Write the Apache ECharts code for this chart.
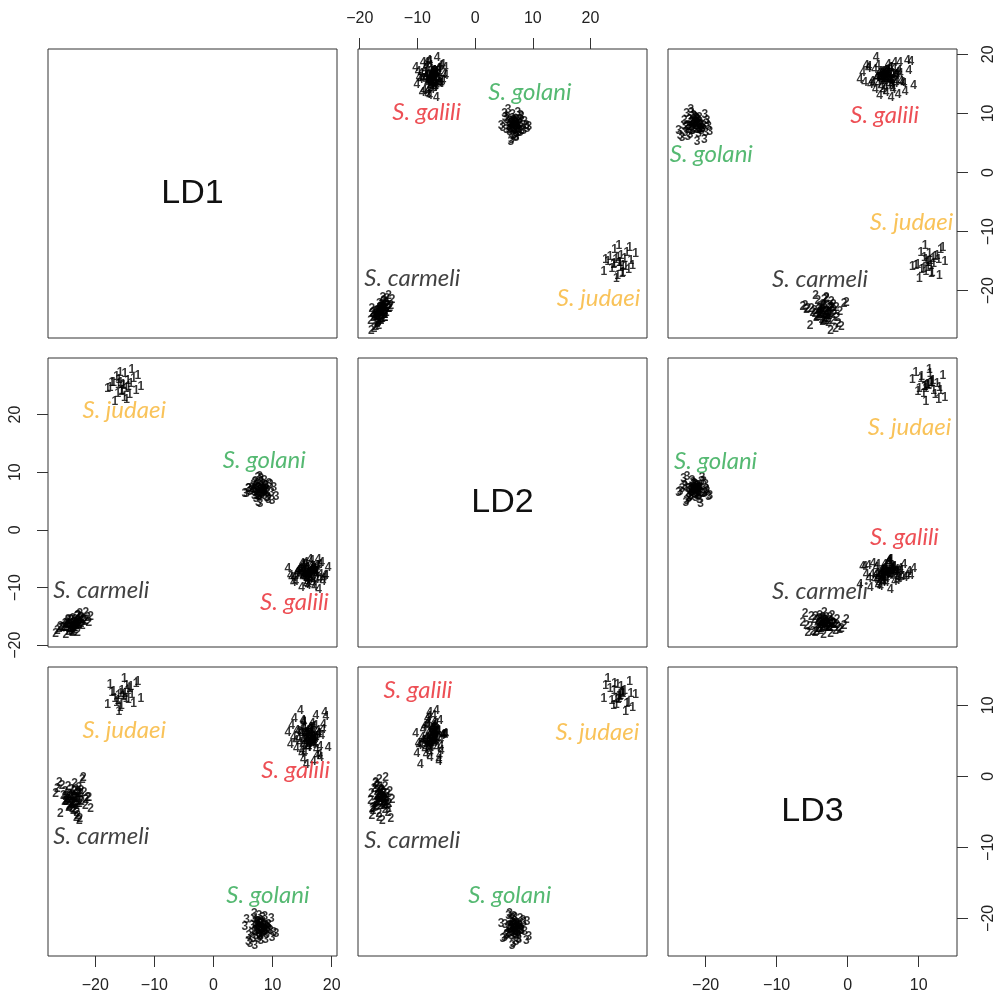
<!DOCTYPE html>
<html><head><meta charset="utf-8">
<script src="https://cdn.jsdelivr.net/npm/echarts@6/dist/echarts.min.js"></script>
<style>html,body{margin:0;padding:0;background:#fff}#c{width:1003px;height:1001px}</style>
</head><body><div id="c"></div><script>
// ---------------- data ----------------
const varNames = ['LD1', 'LD2', 'LD3'];
const axisRanges = [[-28.0, 20.9], [-20.3, 29.8], [-25.3, 15.4]];
const tickValues = [[-20, -10, 0, 10, 20], [-20, -10, 0, 10, 20], [-20, -10, 0, 10]];

const species = ['S. judaei', 'S. carmeli', 'S. golani', 'S. galili'];
const speciesDigit = ['1', '2', '3', '4'];
const speciesColor = ['#F7B431', '#111111', '#2BA84F', '#E8232B'];

// group 1 : S. judaei
const judaeiLD1 = [-15.3, -14.2, -16.4, -13.1, -15.8, -17.2, -14.7, -12.3, -16.0, -15.1, -13.8, -17.9, -14.5, -16.7, -12.8, -15.6, -14.0, -16.2, -15.0, -17.5, -13.5, -16.9, -15.2, -14.8, -15.7, -14.4, -15.5, -16.1];
const judaeiLD2 = [25.1, 23.4, 26.6, 24.2, 27.3, 25.5, 22.6, 24.9, 26.1, 23.0, 27.8, 24.5, 25.9, 22.3, 26.8, 24.0, 25.3, 23.7, 27.0, 24.7, 26.3, 25.6, 25.0, 24.4, 25.6, 24.8, 24.1, 25.2];
const judaeiLD3 = [11.2, 12.3, 10.4, 13.1, 9.6, 11.8, 12.8, 10.9, 9.1, 13.7, 11.5, 10.1, 12.0, 11.0, 13.4, 9.9, 12.6, 10.7, 11.6, 12.9, 10.3, 11.9, 11.4, 11.0, 11.7, 10.8, 12.1, 11.3];
// group 2 : S. carmeli
const carmeliLD1 = [-23.6, -24.5, -22.8, -25.2, -23.1, -21.9, -24.0, -26.1, -23.4, -22.4, -24.8, -23.0, -25.6, -21.3, -23.8, -24.3, -22.6, -25.0, -23.3, -20.8, -24.7, -22.2, -23.9, -25.9, -22.9, -24.1, -21.7, -23.5, -24.9, -22.5, -23.7, -26.4, -21.6, -23.2, -25.4, -22.0, -24.4, -23.0, -26.7, -22.7, -24.6, -21.1, -23.9, -25.1, -22.3,
  -23.5, -23.9, -23.0, -24.2, -22.7, -23.6, -24.6, -23.2, -23.8, -22.5, -24.0, -23.3, -24.4, -22.9, -23.7, -25.0, -23.1, -24.1, -22.8, -23.4];
const carmeliLD2 = [-16.0, -17.6, -16.5, -16.8, -15.1, -15.9, -17.4, -17.2, -15.6, -16.2, -16.1, -17.9, -17.0, -15.3, -15.4, -16.9, -14.6, -18.1, -16.4, -15.0, -16.3, -16.6, -17.1, -16.7, -14.8, -15.7, -15.8, -17.3, -16.4, -15.2, -17.7, -17.5, -14.4, -16.6, -16.9, -15.5, -17.1, -14.9, -18.0, -16.1, -15.6, -16.0, -17.8, -16.3, -15.3,
  -16.3, -16.7, -15.9, -16.5, -16.1, -17.0, -15.7, -16.4, -16.8, -15.5, -16.2, -16.6, -17.2, -15.8, -16.0, -16.9, -16.3, -15.6, -16.5, -17.0];
const carmeliLD3 = [-2.9, -4.4, -1.6, -3.5, -5.1, -2.3, -3.8, -0.9, -4.7, -2.0, -3.2, -5.6, -1.3, -3.0, -4.0, -2.6, -6.0, -3.4, -1.9, -4.5, -2.8, -0.5, -3.7, -5.3, -2.2, -3.1, -4.2, -1.1, -3.6, -2.5, -4.9, -1.7, -3.3, -5.8, -2.7, -0.2, -4.1, -3.9, -2.4, -6.3, -1.5, -3.0, -4.6, -2.1, -3.5,
  -3.1, -2.6, -3.6, -2.9, -3.9, -2.2, -3.3, -4.1, -2.7, -3.4, -1.9, -3.0, -4.3, -2.5, -3.7, -2.8, -3.2, -4.0, -2.4, -3.5];
// group 3 : S. golani
const golaniLD1 = [8.2, 7.1, 9.0, 6.5, 8.7, 7.6, 9.6, 5.6, 8.0, 7.3, 10.2, 6.9, 8.5, 7.8, 9.3, 6.2, 8.9, 7.4, 10.6, 7.0, 8.3, 6.7, 9.1, 7.9, 5.9, 8.6, 9.8, 7.2, 8.1, 6.4, 9.4, 7.7, 8.8, 5.3, 7.5, 9.9, 8.4, 6.8, 7.0, 9.2, 8.0, 6.0, 8.6,
  8.0, 7.6, 8.4, 7.9, 8.7, 7.3, 8.2, 7.8, 8.5, 7.5, 8.1, 7.0, 8.9, 7.7, 8.3, 7.4, 8.6, 7.9, 8.0, 7.2];
const golaniLD2 = [6.1, 8.4, 5.5, 7.2, 6.7, 4.8, 7.9, 6.3, 8.9, 5.9, 7.4, 6.0, 7.0, 9.3, 5.2, 6.6, 7.7, 6.2, 5.7, 8.1, 6.9, 7.5, 6.4, 4.5, 7.1, 8.6, 6.5, 5.4, 7.3, 6.8, 8.0, 5.8, 7.6, 6.2, 9.0, 5.1, 6.9, 7.8, 6.4, 5.6, 8.3, 7.1, 6.0,
  6.9, 7.3, 6.4, 7.0, 6.6, 7.6, 6.2, 7.1, 6.8, 7.4, 6.5, 6.9, 7.2, 6.0, 7.8, 6.7, 7.0, 6.3, 7.5, 6.8];
const golaniLD3 = [-21.4, -20.6, -22.3, -21.0, -19.8, -22.8, -21.7, -20.2, -23.1, -21.2, -22.0, -19.4, -21.5, -22.6, -20.9, -23.6, -21.1, -20.4, -22.1, -21.8, -19.9, -22.9, -21.3, -20.7, -23.3, -21.9, -20.1, -22.4, -20.8, -22.2, -21.6, -19.6, -23.0, -21.2, -20.5, -22.7, -21.9, -20.0, -23.8, -21.4, -20.3, -22.5, -21.0,
  -21.5, -21.0, -22.0, -21.3, -21.8, -20.8, -21.6, -22.3, -21.1, -21.7, -20.6, -21.9, -21.2, -22.1, -21.4, -20.9, -21.7, -22.4, -21.3, -21.0];
// group 4 : S. galili
const galiliLD1 = [16.2, 15.1, 17.4, 14.3, 16.8, 18.1, 15.6, 13.2, 17.0, 16.5, 14.9, 15.8, 19.0, 16.1, 17.7, 13.9, 15.3, 16.9, 18.5, 14.6, 16.4, 15.0, 17.2, 12.6, 16.0, 18.8, 15.5, 17.9, 14.1, 16.6, 15.2, 19.4, 13.5, 16.3, 17.5, 15.9, 14.8, 17.1, 16.7, 15.4, 18.3, 13.7, 16.0, 17.6, 15.7, 14.4, 16.9, 18.0, 15.0, 16.3, 14.0, 17.3, 15.9, 16.5, 13.0, 18.6, 15.2, 16.8, 17.8, 14.7,
  16.1, 15.4, 16.7, 15.8, 17.0, 16.3, 15.1, 16.9, 15.6, 16.4, 17.3, 15.9, 16.2, 14.9, 16.6, 15.3, 17.1, 16.0, 15.7, 16.8, 15.5, 16.5, 17.4, 15.2, 16.1];
const galiliLD2 = [-7.4, -6.1, -8.7, -7.0, -9.4, -7.8, -5.6, -8.2, -6.9, -7.3, -10.1, -6.5, -8.0, -7.6, -5.2, -8.9, -7.1, -6.3, -9.0, -7.7, -8.4, -5.9, -7.2, -6.7, -9.7, -7.9, -6.0, -8.5, -7.5, -5.4, -8.1, -6.6, -9.2, -7.3, -6.2, -8.6, -7.0, -9.9, -6.8, -7.8, -5.7, -8.3, -7.4, -6.4, -9.5, -7.1, -8.8, -6.0, -7.6, -5.1, -8.0, -7.2, -9.1, -6.9, -7.9, -8.4, -6.3, -7.5, -10.3, -6.7,
  -7.6, -8.0, -7.1, -7.9, -6.8, -7.3, -8.3, -7.0, -7.7, -8.5, -7.2, -6.6, -7.8, -7.4, -8.1, -6.9, -7.5, -8.6, -7.0, -7.3, -8.2, -6.4, -7.7, -7.1, -7.9];
const galiliLD3 = [5.6, 7.9, 3.8, 6.3, 4.4, 2.6, 5.9, 7.1, 4.9, 6.8, 3.2, 5.3, 8.4, 4.1, 6.0, 5.0, 7.5, 2.1, 6.6, 4.7, 5.5, 3.6, 7.2, 6.1, 4.3, 8.9, 5.2, 3.0, 6.4, 5.8, 7.7, 4.0, 5.4, 6.9, 2.9, 5.1, 6.2, 4.6, 7.4, 3.4, 5.7, 8.1, 4.8, 6.5, 1.7, 5.3, 7.0, 4.2, 6.7, 5.9, 3.9, 8.6, 5.0, 6.3, 4.5, 7.3, 2.4, 5.6, 6.0, 9.3,
  5.4, 6.2, 4.7, 5.9, 5.1, 6.6, 4.3, 5.7, 6.0, 4.9, 5.3, 6.4, 4.6, 5.8, 5.0, 6.9, 5.5, 4.1, 6.1, 5.2, 4.8, 6.3, 5.6, 5.0, 4.5];

// species label anchors per panel (x value, y value), order: judaei, carmeli, golani, galili
const labels_r1c2 = [[21.4, -21.3], [-10.9, -17.9], [9.5, 13.6], [-8.4, 10.2]];
const labels_r1c3 = [[9.0, -8.4], [-3.9, -18.1], [-19.2, 3.1], [5.2, 9.7]];
const labels_r2c1 = [[-15.1, 20.7], [-19.0, -10.5], [8.6, 12.1], [13.7, -12.6]];
const labels_r2c3 = [[8.7, 17.8], [-3.9, -10.7], [-18.6, 11.9], [8.0, -1.2]];
const labels_r3c1 = [[-15.1, 6.5], [-19.0, -8.5], [9.2, -16.7], [13.9, 0.8]];
const labels_r3c2 = [[21.2, 6.2], [-10.9, -9.0], [6.0, -16.8], [-9.9, 12.1]];

// ---------------- build ----------------
const groups = [
  [judaeiLD1, judaeiLD2, judaeiLD3],
  [carmeliLD1, carmeliLD2, carmeliLD3],
  [golaniLD1, golaniLD2, golaniLD3],
  [galiliLD1, galiliLD2, galiliLD3]
];
const panelLabels = {
  '0-1': labels_r1c2, '0-2': labels_r1c3, '1-0': labels_r2c1,
  '1-2': labels_r2c3, '2-0': labels_r3c1, '2-1': labels_r3c2
};

const L0 = 48, T0 = 49, SZ = 289, STEP = 310, STEPY = 309;
const AXIS_COLOR = '#333';
const LABEL_FONT = 'Liberation Sans, Arial, sans-serif';
const minus = v => String(v).replace('-', '\u2212');

const xTop = {'0-1': true};
const xBottom = {'2-0': true, '2-2': true};
const yLeft = {'1-0': true};
const yRight = {'0-2': true, '2-2': true};

const grid = [], xAxis = [], yAxis = [], series = [], graphic = [];
for (let r = 0; r < 3; r++) {
  for (let c = 0; c < 3; c++) {
    const idx = r * 3 + c;
    const key = r + '-' + c;
    grid.push({
      left: L0 + c * STEP, top: T0 + r * STEPY, width: SZ, height: SZ,
      show: true, borderColor: AXIS_COLOR, borderWidth: 1, backgroundColor: 'transparent',
      containLabel: false, outerBoundsMode: 'none'
    });
    const xs = xTop[key] || xBottom[key];
    const ys = yLeft[key] || yRight[key];
    xAxis.push({
      gridIndex: idx, type: 'value', min: axisRanges[c][0], max: axisRanges[c][1],
      position: xTop[key] ? 'top' : 'bottom',
      axisLine: {show: false, onZero: false}, splitLine: {show: false},
      axisTick: {show: !!xs, inside: false, length: 11, customValues: tickValues[c], lineStyle: {color: AXIS_COLOR, width: 1}},
      axisLabel: {show: !!xs, customValues: tickValues[c], margin: 22, formatter: minus,
        fontFamily: LABEL_FONT, fontSize: 16, color: '#222'}
    });
    yAxis.push({
      gridIndex: idx, type: 'value', min: axisRanges[r][0], max: axisRanges[r][1],
      position: yLeft[key] ? 'left' : 'right',
      axisLine: {show: false, onZero: false}, splitLine: {show: false},
      axisTick: {show: !!ys, inside: false, length: 11, customValues: tickValues[r], lineStyle: {color: AXIS_COLOR, width: 1}},
      axisLabel: {show: !!ys, customValues: tickValues[r], margin: 24, rotate: 90, formatter: minus,
        fontFamily: LABEL_FONT, fontSize: 16, color: '#222'}
    });
    if (r === c) {
      graphic.push({
        type: 'text', x: L0 + c * STEP + SZ / 2, y: T0 + r * STEPY + SZ / 2,
        style: {text: varNames[r], fontSize: 34, fontFamily: LABEL_FONT, fill: '#111',
          textAlign: 'center', textVerticalAlign: 'middle'}
      });
      continue;
    }
    const pts = [];
    groups.forEach((g, gi) => {
      for (let i = 0; i < g[0].length; i++) {
        pts.push([g[c][i], g[r][i], speciesDigit[gi]]);
      }
    });
    series.push({
      type: 'scatter', xAxisIndex: idx, yAxisIndex: idx, data: pts,
      symbolSize: 0, silent: true,
      label: {show: true, position: 'inside', formatter: p => p.data[2],
        fontFamily: LABEL_FONT, fontSize: 12, fontWeight: 'bold', color: '#000'}
    });
    const lp = panelLabels[key];
    series.push({
      type: 'scatter', xAxisIndex: idx, yAxisIndex: idx, symbolSize: 0, silent: true,
      data: lp.map((p, si) => ({value: [p[0], p[1]], name: species[si],
        label: {color: speciesColor[si]}})),
      label: {show: true, position: 'inside', formatter: p => p.name,
        fontFamily: 'Lato, "Open Sans", sans-serif', fontStyle: 'italic', fontSize: 24}
    });
  }
}

const chart = echarts.init(document.getElementById('c'), null, {renderer: 'canvas'});
chart.setOption({
  animation: false, backgroundColor: '#fff',
  grid, xAxis, yAxis, series, graphic
});
</script></body></html>
